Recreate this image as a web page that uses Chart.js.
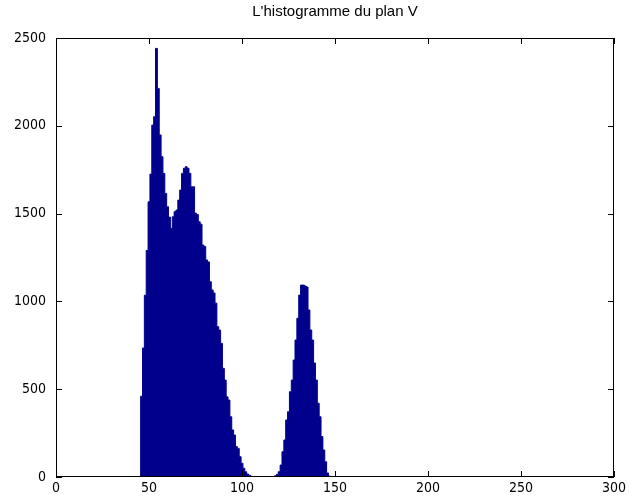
<!DOCTYPE html>
<html>
<head>
<meta charset="utf-8">
<script src="https://cdn.jsdelivr.net/npm/chart.js@4.4.1/dist/chart.umd.min.js"></script>
<style>
  html, body { margin: 0; padding: 0; background: #fff; }
  #hist { display: block; }
</style>
</head>
<body>
<canvas id="hist" width="629" height="501"></canvas>
<script>
// histogram of the V plane, counts (one per bin, empty bins at both ends)
var hump1Start = 45;
var hump1Counts = [0, 460, 735, 1035, 1290, 1567, 1725, 2004, 2052, 2441, 2213,
    1948, 1824, 1729, 1615, 1539, 1480, 1416, 1482, 1511, 1520,
    1577, 1634, 1729, 1758, 1767, 1758, 1729, 1653, 1653, 1503,
    1495, 1454, 1440, 1321, 1313, 1236, 1225, 1112, 1065, 1048,
    990, 856, 837, 761, 619, 552, 457, 438, 343, 268,
    239, 173, 163, 116, 78, 50, 30, 17, 10, 4, 0];
var hump2Start = 117;
var hump2Counts = [0, 7, 15, 30, 68, 144, 211, 325, 372, 486, 552,
    666, 780, 904, 1036, 1093, 1093, 1088, 1082, 951, 837,
    780, 649, 552, 420, 343, 230, 154, 87, 23, 5, 0];
var xTicks = [0, 50, 100, 150, 200, 250, 300];
var yTicks = [0, 500, 1000, 1500, 2000, 2500];
var titleText = "L'histogramme du plan V";

var points = [];
hump1Counts.forEach(function (c, i) { points.push({ x: hump1Start + i, y: c }); });
hump2Counts.forEach(function (c, i) { points.push({ x: hump2Start + i, y: c }); });

var barColor = '#00008C';
var tickFont = { family: "'Liberation Sans Narrow', 'DejaVu Sans Condensed', sans-serif", size: 14 };

// matlab style box with ticks pointing inward
var boxTicks = {
    id: 'boxTicks',
    afterDraw: function (chart) {
        var ctx = chart.ctx, a = chart.chartArea;
        var xs = chart.scales.x, ys = chart.scales.y;
        var len = 6;
        ctx.save();
        ctx.strokeStyle = '#000';
        ctx.lineWidth = 1;
        ctx.strokeRect(Math.round(a.left) + 0.5, Math.round(a.top) + 0.5,
            Math.round(a.right - a.left) - 1, Math.round(a.bottom - a.top) - 1);
        ctx.beginPath();
        xTicks.forEach(function (v) {
            var px = Math.round(xs.getPixelForValue(v)) + 0.5;
            ctx.moveTo(px, a.bottom); ctx.lineTo(px, a.bottom - len);
            ctx.moveTo(px, a.top); ctx.lineTo(px, a.top + len);
        });
        yTicks.forEach(function (v) {
            var py = Math.round(ys.getPixelForValue(v)) + 0.5;
            ctx.moveTo(a.left, py); ctx.lineTo(a.left + len, py);
            ctx.moveTo(a.right, py); ctx.lineTo(a.right - len, py);
        });
        ctx.stroke();
        ctx.restore();
    }
};

// bins drawn as one stepped, filled outline so neighbouring bars leave no seams
new Chart(document.getElementById('hist').getContext('2d'), {
    type: 'line',
    data: {
        datasets: [{
            label: 'V',
            data: points,
            stepped: 'middle',
            fill: 'origin',
            backgroundColor: barColor,
            borderColor: barColor,
            borderWidth: 1,
            pointRadius: 0,
            clip: 0
        }]
    },
    options: {
        responsive: false,
        animation: false,
        devicePixelRatio: 1,
        layout: { padding: { left: 0, right: 14, top: 0, bottom: 0 } },
        plugins: {
            legend: { display: false },
            tooltip: { enabled: false },
            title: {
                display: true,
                text: titleText,
                fullSize: false,
                color: '#000',
                font: { family: "'Liberation Sans', Arial, sans-serif", size: 15, weight: 'normal' },
                padding: { top: 3, bottom: 17 }
            }
        },
        scales: {
            x: {
                type: 'linear',
                min: 0,
                max: 300,
                offset: false,
                grid: { display: false, drawTicks: false },
                border: { display: false },
                afterBuildTicks: function (s) { s.ticks = xTicks.map(function (v) { return { value: v }; }); },
                afterFit: function (s) { s.height = 24; },
                ticks: {
                    color: '#000', font: tickFont, padding: 3, maxRotation: 0,
                    callback: function (v) { return String(v); }
                }
            },
            y: {
                min: 0,
                max: 2500,
                grid: { display: false, drawTicks: false },
                border: { display: false },
                afterBuildTicks: function (s) { s.ticks = yTicks.map(function (v) { return { value: v }; }); },
                afterFit: function (s) { s.width = 56; },
                ticks: {
                    color: '#000', font: tickFont, padding: 10,
                    callback: function (v) { return String(v); }
                }
            }
        }
    },
    plugins: [boxTicks]
});
</script>
</body>
</html>
